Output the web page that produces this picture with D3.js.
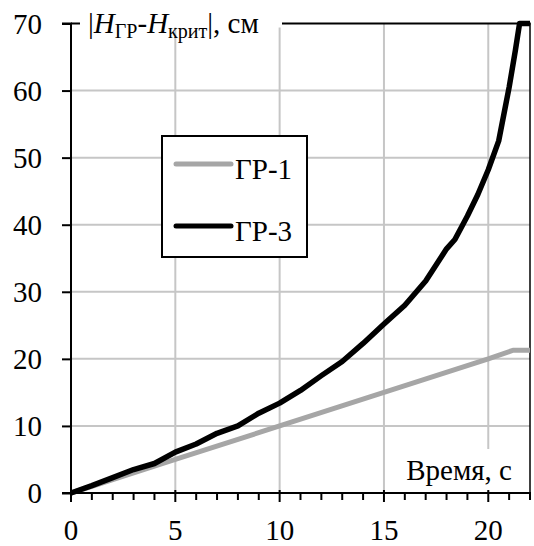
<!DOCTYPE html>
<html><head><meta charset="utf-8">
<script src="https://cdn.jsdelivr.net/npm/d3@7"></script>
</head><body style="margin:0"><svg id="c" width="534" height="546"></svg>
<script>
const xTicks = [0, 5, 10, 15, 20];
const yTicks = [0, 10, 20, 30, 40, 50, 60, 70];
const seriesNames = ["ГР-1", "ГР-3"];
const gr1X = [0, 5, 10, 15, 20, 21.2, 22];
const gr1Y = [0, 5, 10, 15, 20, 21.3, 21.3];
const gr3X = [0, 1, 2, 3, 4, 5, 6, 7, 8, 9, 10, 11, 12, 13, 14, 15, 16, 17, 18, 18.4, 19, 19.5, 20, 20.5, 21, 21.3, 21.5, 22];
const gr3Y = [0, 1.1, 2.3, 3.5, 4.4, 6.1, 7.3, 8.9, 10.0, 11.9, 13.4, 15.3, 17.5, 19.6, 22.3, 25.2, 28.0, 31.6, 36.4, 37.8, 41.3, 44.5, 48.2, 52.5, 60.5, 66, 70, 70];

const svg = d3.select("#c");
const L = 71, R = 530, T = 23.5, B = 493;
const x = d3.scaleLinear().domain([0, 22]).range([L, R]);
const y = d3.scaleLinear().domain([0, 70]).range([B, T]);
function ft(sel, size) {
  return sel.style("font-family", '"Times New Roman"').style("font-size", (size || 29) + "px");
}

// grid
const g = svg.append("g");
g.selectAll(".vg").data(xTicks.filter(d => d > 0)).enter().append("line")
  .attr("x1", d => x(d)).attr("x2", d => x(d)).attr("y1", T).attr("y2", B)
  .attr("stroke", "#c6c6c6").attr("stroke-width", 2);
g.selectAll(".hg").data(yTicks.filter(d => d > 0 && d < 70)).enter().append("line")
  .attr("x1", L).attr("x2", R).attr("y1", d => y(d)).attr("y2", d => y(d))
  .attr("stroke", "#c6c6c6").attr("stroke-width", 2);

// white backing for x label
svg.append("rect").attr("x", 398).attr("y", 449).attr("width", 122).attr("height", 42).attr("fill", "#fff");
ft(svg.append("text").attr("x", 512).attr("y", 480).attr("text-anchor", "end")).text("Время, с");

// frame
svg.append("line").attr("x1", R).attr("x2", R).attr("y1", T).attr("y2", B).attr("stroke", "#000").attr("stroke-width", 1.5);
svg.append("line").attr("x1", L).attr("x2", R + 0.75).attr("y1", T).attr("y2", T).attr("stroke", "#000").attr("stroke-width", 2);

// lines
const line = d3.line().x(d => x(d[0])).y(d => y(d[1]));
svg.append("path").datum(gr1X.map((v, i) => [v, gr1Y[i]])).attr("d", line)
  .attr("fill", "none").attr("stroke", "#a6a6a6").attr("stroke-width", 5);
svg.append("path").datum(gr3X.map((v, i) => [v, gr3Y[i]])).attr("d", line)
  .attr("fill", "none").attr("stroke", "#000").attr("stroke-width", 5.5).attr("stroke-linejoin", "round");

// axes
const yAxis = d3.axisLeft(y).tickValues(yTicks).tickSize(9).tickPadding(20);
const ya = svg.append("g").attr("transform", `translate(${L},0)`).call(yAxis);
ya.attr("font-family", null).attr("font-size", null);
ya.select(".domain").attr("stroke-width", 2).attr("d", `M-9,${T}H0V${B}`);
ya.selectAll(".tick line").attr("stroke-width", 2);
ft(ya.selectAll("text")).attr("dy", "0.34em");

const minor = d3.range(0, 23);
const xa = svg.append("g").attr("transform", `translate(0,${B})`);
xa.append("line").attr("x1", L - 9).attr("x2", R + 1).attr("y1", 0).attr("y2", 0).attr("stroke", "#000").attr("stroke-width", 2);
xa.selectAll(".mt").data(minor).enter().append("line")
  .attr("x1", d => x(d)).attr("x2", d => x(d))
  .attr("y1", d => d % 5 === 0 ? -3 : 0).attr("y2", d => d % 5 === 0 ? 9 : 7)
  .attr("stroke", "#000").attr("stroke-width", 2);
ft(xa.selectAll(".xl").data(xTicks).enter().append("text")
  .attr("x", d => x(d)).attr("y", 47).attr("text-anchor", "middle")).text(d => d);

// title with white backing
svg.append("rect").attr("x", 80).attr("y", T - 4).attr("width", 202).attr("height", 8).attr("fill", "#fff");
const tt = ft(svg.append("text").attr("x", 88).attr("y", 33));
tt.append("tspan").text("|");
tt.append("tspan").style("font-style", "italic").text("H");
tt.append("tspan").style("font-size", "20px").attr("dy", 5).text("ГР");
tt.append("tspan").attr("dy", -5).text("-");
tt.append("tspan").style("font-style", "italic").text("H");
tt.append("tspan").style("font-size", "20px").attr("dy", 5).text("крит");
tt.append("tspan").attr("dy", -5).text("|, см");

// legend
const lg = svg.append("g");
lg.append("rect").attr("x", 162).attr("y", 136).attr("width", 145).attr("height", 121)
  .attr("fill", "#fff").attr("stroke", "#000").attr("stroke-width", 2);
const lcol = ["#a6a6a6", "#000"];
seriesNames.forEach((n, i) => {
  const yy = 164 + i * 62;
  lg.append("line").attr("x1", 176).attr("x2", 231).attr("y1", yy).attr("y2", yy)
    .attr("stroke", lcol[i]).attr("stroke-width", 5).attr("stroke-linecap", "round");
  ft(lg.append("text").attr("x", 235).attr("y", yy + 15)).text(n);
});
</script></body></html>
